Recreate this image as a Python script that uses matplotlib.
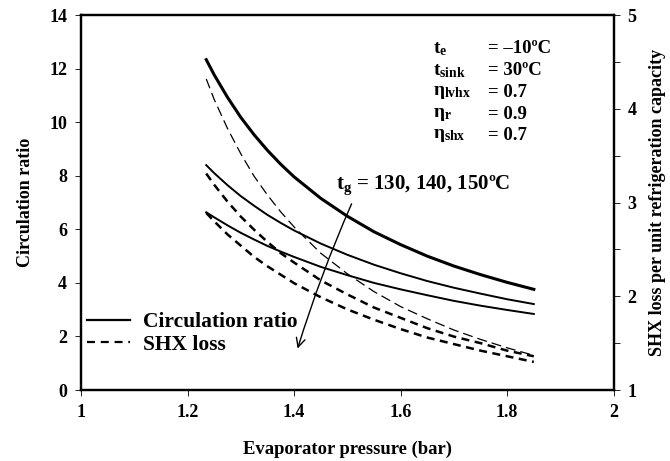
import matplotlib
matplotlib.use("Agg")
import matplotlib.pyplot as plt
from matplotlib.lines import Line2D
from matplotlib.ticker import MultipleLocator

# ---------------------------------
# DATA
# ---------------------------------

pressure = [1.235, 1.25, 1.275, 1.30, 1.325, 1.35, 1.375, 1.40, 1.45, 1.50,
            1.55, 1.60, 1.65, 1.70, 1.75, 1.80, 1.85]

# circulation ratio, tg = 130, 140, 150 C (left axis)
cr_130 = [12.34, 11.77, 10.93, 10.18, 9.53, 8.95, 8.43, 7.96, 7.16, 6.49,
          5.91, 5.43, 5.00, 4.63, 4.31, 4.02, 3.76]
cr_140 = [8.40, 8.10, 7.65, 7.24, 6.88, 6.54, 6.24, 5.96, 5.47, 5.05,
          4.68, 4.36, 4.07, 3.82, 3.60, 3.39, 3.21]
cr_150 = [6.64, 6.45, 6.15, 5.87, 5.62, 5.38, 5.17, 4.97, 4.60, 4.29,
          4.00, 3.76, 3.54, 3.33, 3.15, 2.99, 2.84]

# SHX loss per unit refrigeration capacity (right axis)
shx_130 = [4.32, 4.10, 3.79, 3.52, 3.28, 3.08, 2.90, 2.74, 2.46, 2.24,
           2.05, 1.89, 1.76, 1.64, 1.54, 1.45, 1.37]
shx_140 = [3.31, 3.19, 3.01, 2.85, 2.71, 2.58, 2.46, 2.36, 2.17, 2.02,
           1.88, 1.77, 1.66, 1.57, 1.50, 1.42, 1.36]
shx_150 = [2.89, 2.80, 2.66, 2.54, 2.42, 2.32, 2.23, 2.14, 1.99, 1.86,
           1.75, 1.65, 1.56, 1.49, 1.42, 1.36, 1.30]

x_ticks = [1, 1.2, 1.4, 1.6, 1.8, 2]
x_tick_labels = ["1", "1.2", "1.4", "1.6", "1.8", "2"]

# ---------------------------------
# STYLE
# ---------------------------------

plt.rcParams["font.family"] = ["Liberation Serif", "DejaVu Serif"]
plt.rcParams["font.weight"] = "bold"
plt.rcParams["mathtext.fontset"] = "custom"
plt.rcParams["mathtext.rm"] = "Liberation Serif"
plt.rcParams["mathtext.it"] = "Liberation Serif"
plt.rcParams["mathtext.bf"] = "Liberation Serif:bold"

fig = plt.figure(figsize=(6.7, 4.61), dpi=100)
ax = fig.add_axes([0.121, 0.154, 0.795, 0.813])
ax2 = ax.twinx()

# ---------------------------------
# CURVES
# ---------------------------------

ax.plot(pressure, cr_130, color="black", lw=2.2)
ax.plot(pressure, cr_140, color="black", lw=1.4)
ax.plot(pressure, cr_150, color="black", lw=1.4)

ax2.plot(pressure, shx_130, color="black", lw=0.9, linestyle=(0, (8, 4)))
ax2.plot(pressure, shx_140, color="black", lw=1.8, linestyle=(0, (3.2, 2.2)))
ax2.plot(pressure, shx_150, color="black", lw=1.8, linestyle=(0, (3.2, 2.2)))

# ---------------------------------
# AXES
# ---------------------------------

ax.set_xlim(1, 2)
ax.set_ylim(0, 14)
ax2.set_ylim(1, 5)

ax.set_xticks(x_ticks)
ax.set_xticklabels(x_tick_labels)
ax.yaxis.set_major_locator(MultipleLocator(2))
ax2.yaxis.set_major_locator(MultipleLocator(1))
ax2.yaxis.set_minor_locator(MultipleLocator(0.5))

for a in (ax, ax2):
    for s in a.spines.values():
        s.set_linewidth(1.6)
    a.tick_params(which="major", direction="out", length=4, width=0.6,
                  labelsize=13, pad=6)
    a.tick_params(which="minor", direction="out", length=4, width=0.6)

ax.set_xlabel("Evaporator pressure (bar)", fontsize=13.4, fontweight="bold", labelpad=14)
ax.set_ylabel("Circulation ratio", fontsize=13, fontweight="bold", labelpad=11)
ax2.set_ylabel("SHX loss per unit refrigeration capacity", fontsize=13,
               fontweight="bold", labelpad=9)

# ---------------------------------
# ANNOTATIONS
# ---------------------------------

params = [
    (r"$\mathbf{t}_{\mathbf{e}}$", "= \u201310\u00baC"),
    (r"$\mathbf{t}_{\mathbf{sink}}$", "= 30\u00baC"),
    (r"$\eta_{\mathbf{lvhx}}$", "= 0.7"),
    (r"$\eta_{\mathbf{r}}$", "= 0.9"),
    (r"$\eta_{\mathbf{shx}}$", "= 0.7"),
]
for i, (name, val) in enumerate(params):
    yy = 0.91 - i * 0.058
    ax.text(0.66, yy, name, transform=ax.transAxes, fontsize=14,
            va="center", ha="left")
    ax.text(0.764, yy, val, transform=ax.transAxes, fontsize=13.5,
            fontweight="bold", va="center", ha="left")

ax.text(1.478, 7.65, r"$\mathbf{t}_{\mathbf{g}}$" + " = 130, 140, 150\u00baC",
        fontsize=15, fontweight="bold", va="center", ha="left")
ax.annotate("", xy=(1.405, 1.45), xytext=(1.51, 7.05),
            arrowprops=dict(arrowstyle="->", lw=1.0, color="black",
                            mutation_scale=16,
                            connectionstyle="arc3,rad=0.03"))

# ---------------------------------
# LEGEND
# ---------------------------------

handles = [
    Line2D([], [], color="black", lw=1.6),
    Line2D([], [], color="black", lw=1.6, linestyle=(0, (3.6, 2.6))),
]
leg = ax.legend(handles, ["Circulation ratio", "SHX loss"], loc="lower left",
                bbox_to_anchor=(-0.005, 0.071), borderaxespad=0, frameon=False,
                handlelength=2.0, handletextpad=0.6, labelspacing=0.12,
                prop={"family": "Liberation Serif", "weight": "bold", "size": 15.5})

fig.savefig("out.png", dpi=100)
